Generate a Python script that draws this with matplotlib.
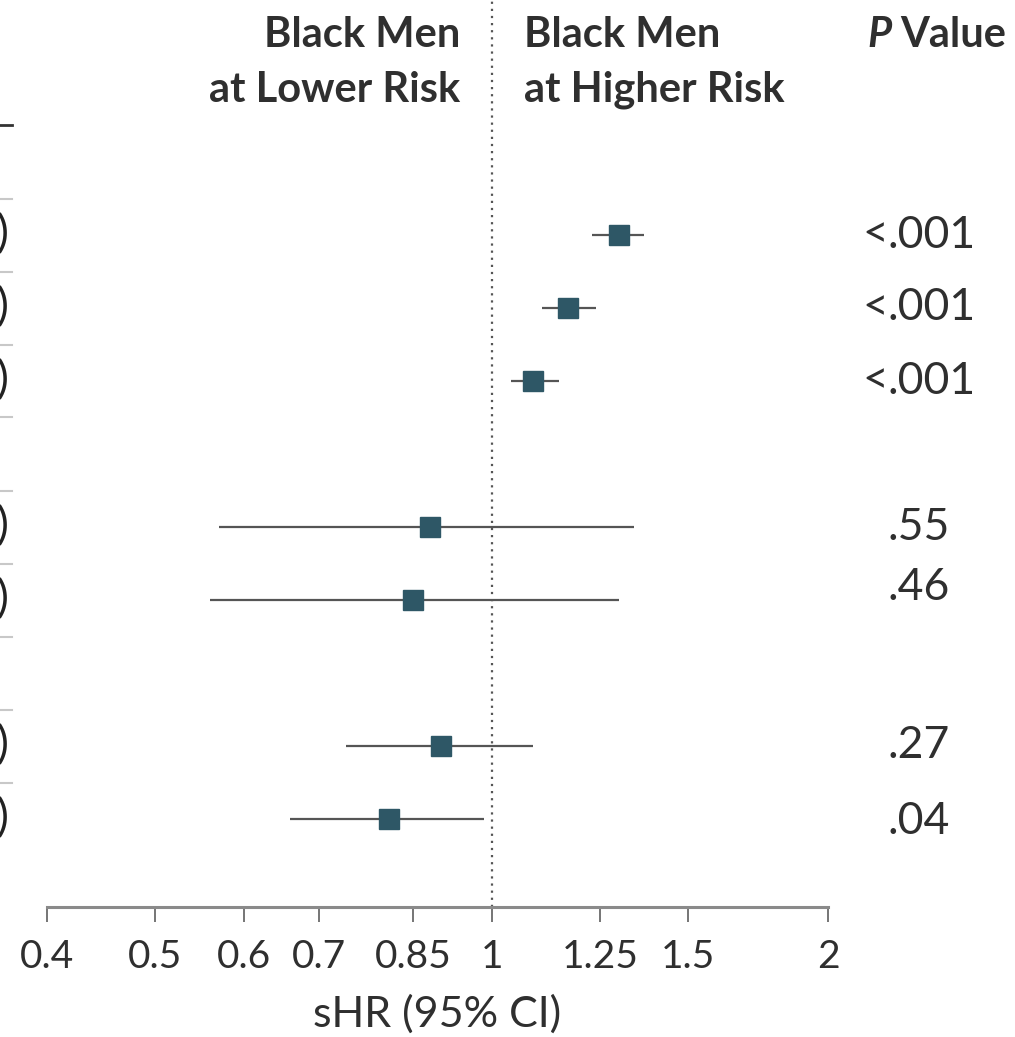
import matplotlib
matplotlib.use("Agg")
import matplotlib.pyplot as plt
from matplotlib.lines import Line2D

plt.rcParams['font.family'] = ['Lato', 'DejaVu Sans']

# ---- data ----
row_slots = [1, 2, 3, 5, 6, 8, 9]
shr = [1.30, 1.17, 1.09, 0.88, 0.85, 0.90, 0.81]
ci_low = [1.23, 1.11, 1.04, 0.57, 0.56, 0.74, 0.66]
ci_high = [1.37, 1.24, 1.15, 1.34, 1.30, 1.09, 0.985]
p_values = ["<.001", "<.001", "<.001", ".55", ".46", ".27", ".04"]
tick_values = [0.4, 0.5, 0.6, 0.7, 0.85, 1, 1.25, 1.5, 2]
tick_labels = ["0.4", "0.5", "0.6", "0.7", "0.85", "1", "1.25", "1.5", "2"]
left_row_marks = [")"] * 7
separator_slots = [0.5, 1.5, 2.5, 3.5, 4.5, 5.5, 6.5, 7.5, 8.5]

W, H = 1015, 1037
FS = 28
TXT = '#2f2f2f'
fig = plt.figure(figsize=(W / 100, H / 100), dpi=100)

def fx(px):
    return px / W

def fy(py):
    return 1 - py / H

ax_left, ax_right, ax_top, ax_bottom = 47, 828, 0, 907
ax = fig.add_axes([fx(ax_left), fy(ax_bottom), fx(ax_right - ax_left), (ax_bottom - ax_top) / H])
ax.set_xscale('log')
ax.set_xlim(0.4, 2)
slot0_px, slot_h = 162, 73
ax.set_ylim((ax_bottom - slot0_px) / slot_h, (ax_top - slot0_px) / slot_h)

for s in ['top', 'right', 'left']:
    ax.spines[s].set_visible(False)
ax.spines['bottom'].set_color('#8a8a8a')
ax.spines['bottom'].set_linewidth(2.2)
ax.set_yticks([])
ax.set_xticks(tick_values)
ax.set_xticklabels(tick_labels)
ax.xaxis.set_minor_locator(matplotlib.ticker.NullLocator())
ax.tick_params(axis='x', direction='out', length=11, width=1.3, color='#6a6a6a',
               labelsize=FS, labelcolor=TXT, pad=12)
ax.set_xlabel("sHR (95% CI)", fontsize=31, color=TXT, labelpad=14)

# reference line
ax.axvline(1, color='#555555', linestyle=(0, (1, 2.2)), linewidth=1.6, zorder=1)

# CIs and points
for y, m, lo, hi in zip(row_slots, shr, ci_low, ci_high):
    ax.plot([lo, hi], [y, y], color='#555555', linewidth=1.6, zorder=2, solid_capstyle='butt')
    ax.plot([m], [y], marker='s', markersize=15, color='#2e5766',
            markeredgecolor='#2e5766', zorder=3, linestyle='none')

# P values (decimal-aligned)
PFS = 32
dot_x = fx(888)
p_offsets = [0, 0, 0, 0, -12, 0, 2]
for y, p, off in zip(row_slots, p_values, p_offsets):
    ypx = slot0_px + y * slot_h + off
    if p.startswith("<"):
        fig.text(dot_x, fy(ypx), "<", ha='right', va='center', fontsize=PFS, color=TXT)
        fig.text(dot_x, fy(ypx), p[1:], ha='left', va='center', fontsize=PFS, color=TXT)
    else:
        fig.text(dot_x, fy(ypx), p, ha='left', va='center', fontsize=PFS, color=TXT)

# headers
HW = 'bold'
HFS = 30
fig.text(fx(460), fy(35), "Black Men", ha='right', va='center', fontsize=HFS,
         fontweight=HW, color=TXT)
fig.text(fx(460), fy(90), "at Lower Risk", ha='right', va='center', fontsize=HFS,
         fontweight=HW, color=TXT)
fig.text(fx(524), fy(35), "Black Men", ha='left', va='center', fontsize=HFS,
         fontweight=HW, color=TXT)
fig.text(fx(524), fy(90), "at Higher Risk", ha='left', va='center', fontsize=HFS,
         fontweight=HW, color=TXT)
tv = fig.text(fx(1006), fy(35), "Value", ha='right', va='center', fontsize=HFS,
              fontweight=HW, color=TXT)
renderer = fig.canvas.get_renderer()
bb = tv.get_window_extent(renderer=renderer)
fig.text((bb.x0 - 8) / W, fy(35), "P", ha='right', va='center', fontsize=HFS,
         fontweight=HW, fontstyle='italic', color=TXT)

# remnants of the left table
fig.add_artist(Line2D([0, fx(12)], [fy(125), fy(125)], color='#333333', linewidth=2))
for s in separator_slots:
    ypx = slot0_px + s * slot_h
    fig.add_artist(Line2D([0, fx(12)], [fy(ypx), fy(ypx)], color='#c8c8c8', linewidth=1.5))
for y, mark in zip(row_slots, left_row_marks):
    ypx = slot0_px + y * slot_h
    fig.text(fx(9), fy(ypx), mark, ha='right', va='center', fontsize=32, color='#222222')

fig.savefig("out.png", dpi=100)
